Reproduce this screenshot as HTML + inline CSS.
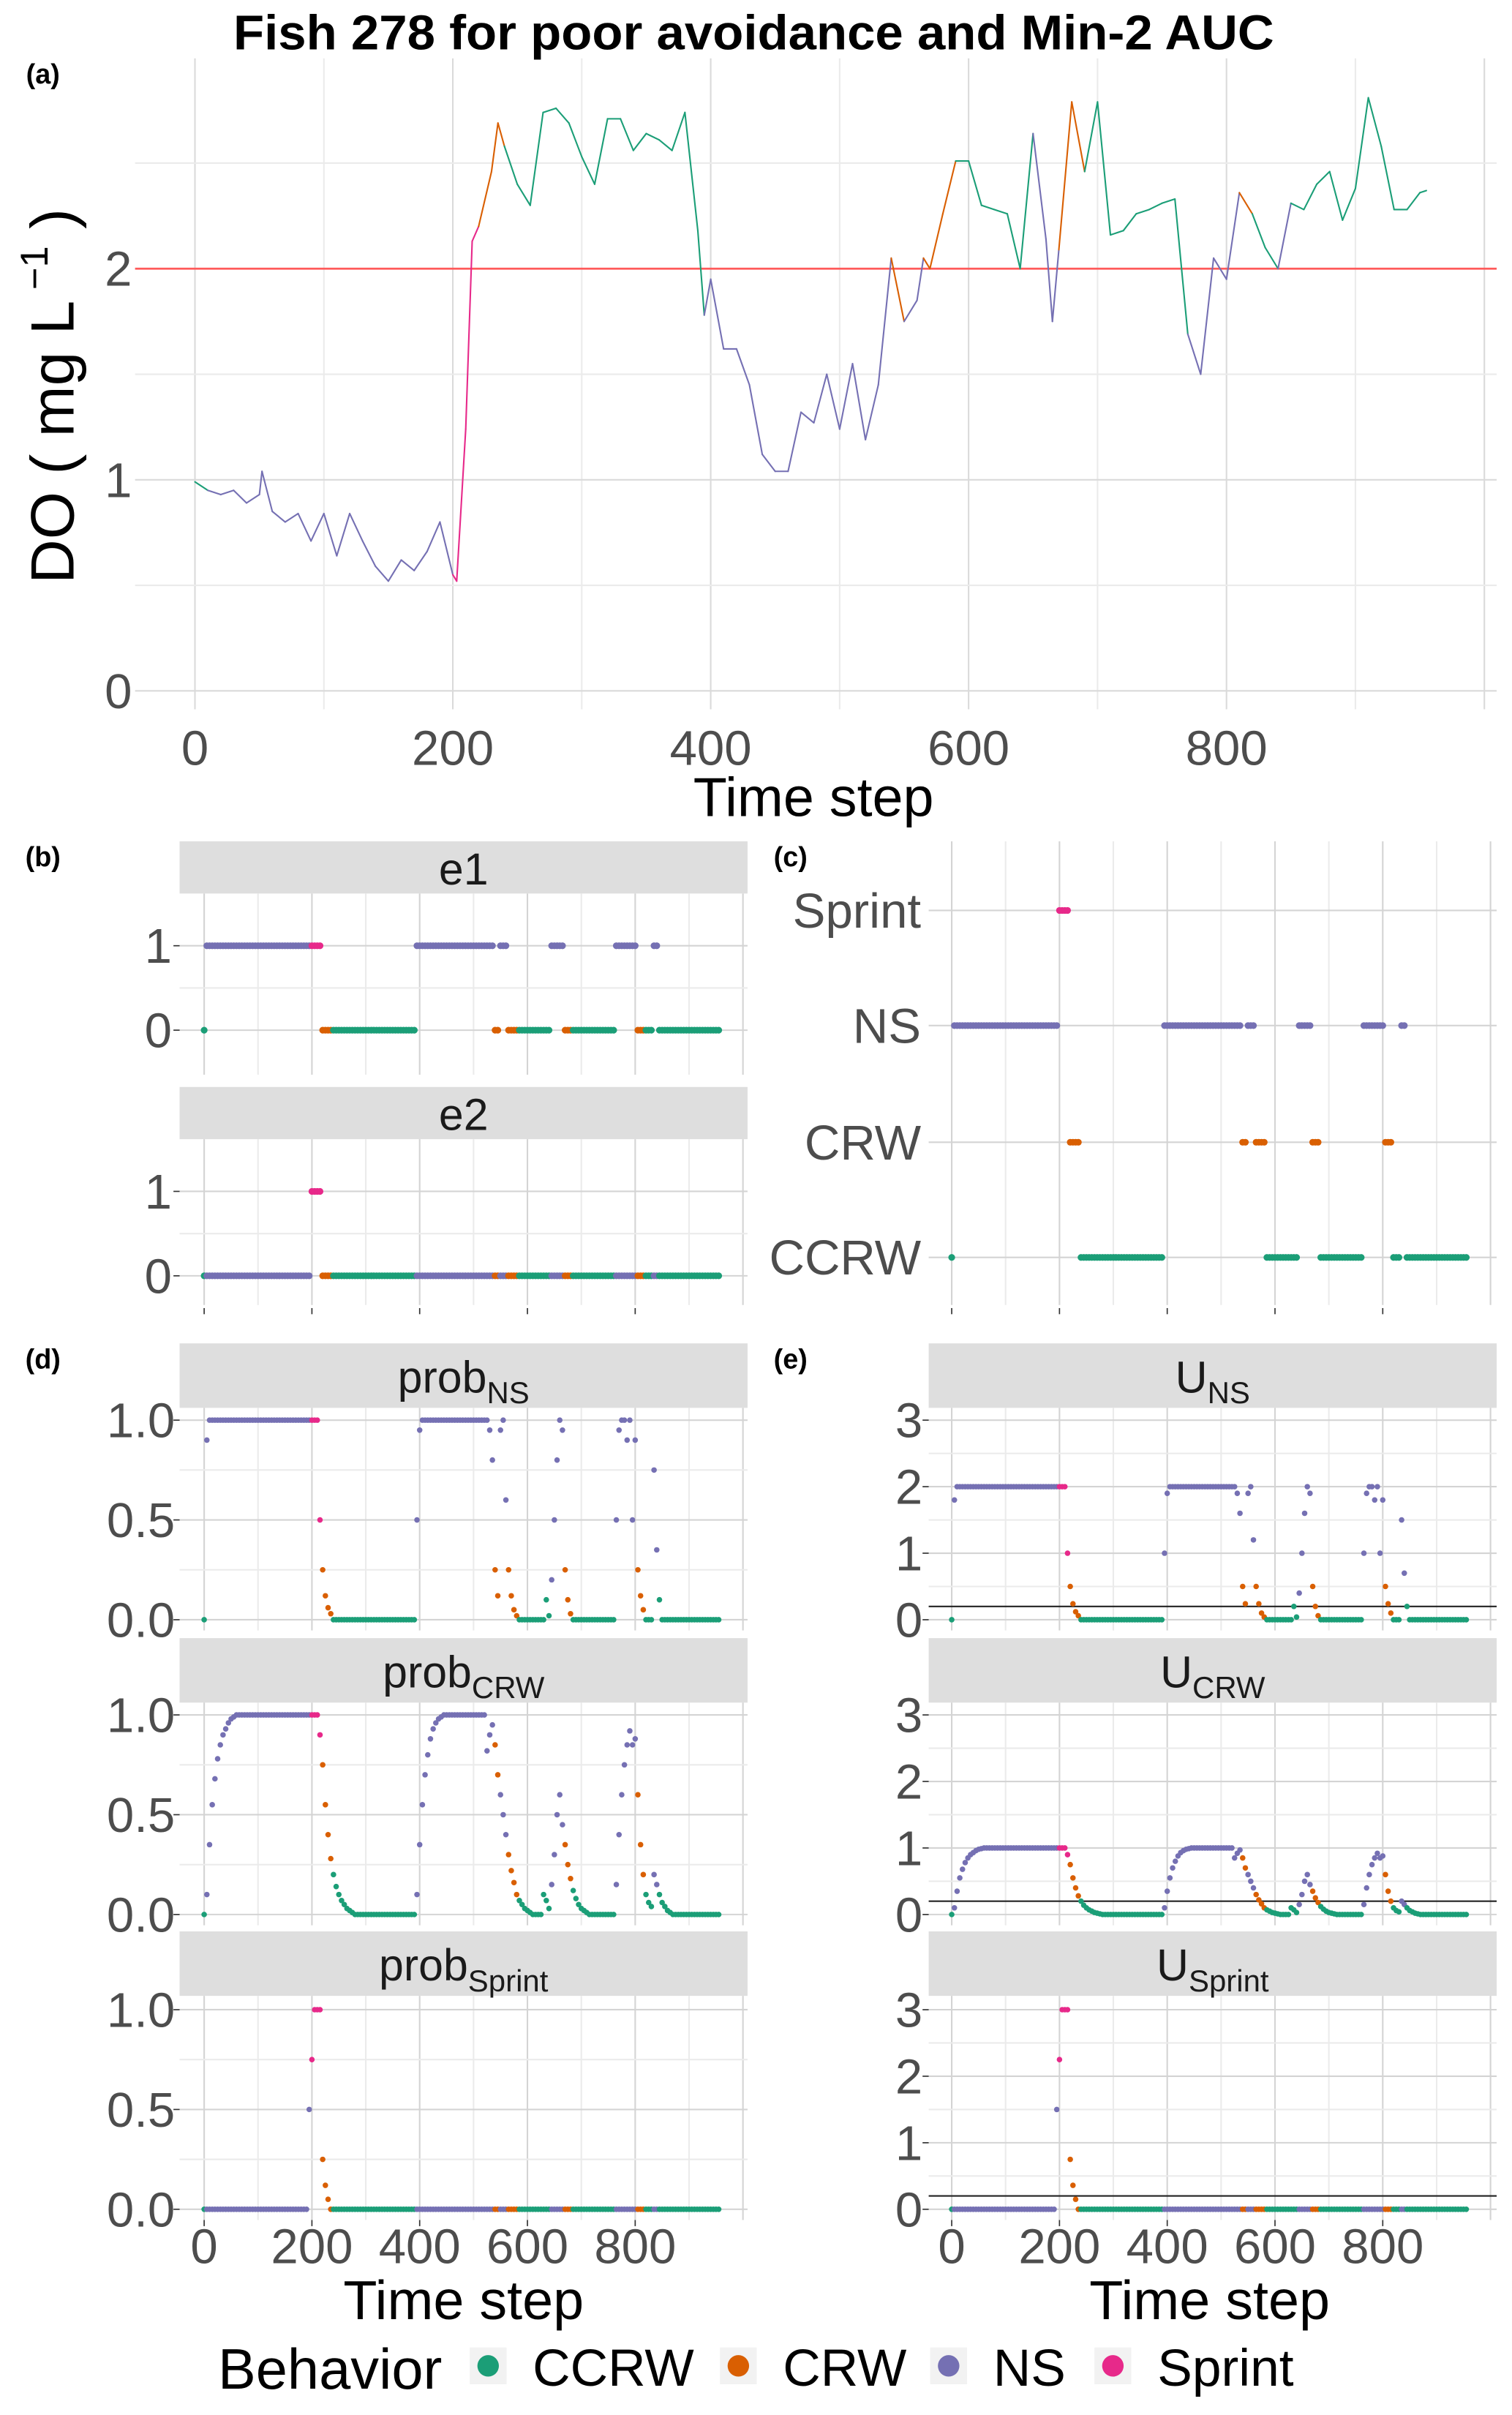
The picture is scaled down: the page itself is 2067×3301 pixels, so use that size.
<!DOCTYPE html>
<html><head><meta charset="utf-8"><style>
html,body{margin:0;padding:0;background:#fff;}
svg{display:block;font-family:"Liberation Sans",sans-serif;}
</style></head><body>
<svg id="chart" xmlns="http://www.w3.org/2000/svg" width="2067" height="3301" viewBox="0 0 985 1573" preserveAspectRatio="none">
<rect x="0" y="0" width="985" height="1573" fill="#fff"/>
</svg>
<script>
// ---------- data ----------
const behStart=[0,5,200,220,240,395,540,550,565,585,645,670,685,765,805,820,835,845];
const behCode=['CCRW','NS','Sprint','CRW','CCRW','NS','CRW','NS','CRW','CCRW','NS','CRW','CCRW','NS','CRW','CCRW','NS','CCRW'];
const legendCats=['CCRW','CRW','NS','Sprint'];
const doT=[0,10,20,30,40,50,52,60,70,80,90,100,110,120,130,140,150,160,170,180,190,200,203,210,215,220,230,235,240,250,260,270,280,290,300,310,320,330,340,350,360,370,380,390,395,400,410,420,430,440,450,460,470,480,490,500,510,520,530,540,545,550,560,565,570,580,590,600,610,620,630,640,650,660,665,670,680,690,700,710,720,730,740,750,760,770,780,790,800,810,820,830,840,850,860,870,880,890,900,910,920,930,940,950,955];
const doV=[0.99,0.95,0.93,0.95,0.89,0.93,1.04,0.85,0.80,0.84,0.71,0.84,0.64,0.84,0.71,0.59,0.52,0.62,0.57,0.66,0.80,0.55,0.52,1.24,2.13,2.2,2.46,2.69,2.58,2.4,2.3,2.74,2.76,2.69,2.53,2.4,2.71,2.71,2.56,2.64,2.61,2.56,2.74,2.18,1.78,1.95,1.62,1.62,1.45,1.12,1.04,1.04,1.32,1.27,1.5,1.24,1.55,1.19,1.45,2.05,1.9,1.75,1.85,2.05,2.0,2.26,2.51,2.51,2.3,2.28,2.26,2.0,2.64,2.14,1.75,2.09,2.79,2.46,2.79,2.16,2.18,2.26,2.28,2.31,2.33,1.69,1.5,2.05,1.95,2.36,2.26,2.1,2.0,2.31,2.28,2.4,2.46,2.23,2.38,2.81,2.58,2.28,2.28,2.36,2.37];
const doThreshold=2;
const uThreshold=0.2;
const stepEvery=5;
const probNS=[0,0.9,1,1,1,1,1,1,1,1,
1,1,1,1,1,1,1,1,1,1,
1,1,1,1,1,1,1,1,1,1,
1,1,1,1,1,1,1,1,1,1,
1,1,1,0.5,0.25,0.12,0.06,0.03,0,0,
0,0,0,0,0,0,0,0,0,0,
0,0,0,0,0,0,0,0,0,0,
0,0,0,0,0,0,0,0,0,0.5,
0.95,1,1,1,1,1,1,1,1,1,
1,1,1,1,1,1,1,1,1,1,
1,1,1,1,1,1,0.95,0.8,0.25,0.12,
0.95,1,0.6,0.25,0.12,0.05,0.02,0,0,0,
0,0,0,0,0,0,0,0.1,0.02,0.2,
0.5,0.8,1,0.95,0.25,0.1,0.03,0,0,0,
0,0,0,0,0,0,0,0,0,0,
0,0,0,0.5,0.95,1,1,0.9,1,0.5,
0.9,0.25,0.12,0.05,0,0,0,0.75,0.35,0.1,
0,0,0,0,0,0,0,0,0,0,
0,0,0,0,0,0,0,0,0,0,
0,0];
const probCRW=[0,0.1,0.35,0.55,0.68,0.78,0.85,0.9,0.93,0.96,
0.98,0.99,1,1,1,1,1,1,1,1,
1,1,1,1,1,1,1,1,1,1,
1,1,1,1,1,1,1,1,1,1,
1,1,1,0.9,0.75,0.55,0.4,0.28,0.2,0.14,
0.1,0.07,0.05,0.03,0.02,0.01,0,0,0,0,
0,0,0,0,0,0,0,0,0,0,
0,0,0,0,0,0,0,0,0,0.1,
0.35,0.55,0.7,0.8,0.88,0.93,0.96,0.98,0.99,1,
1,1,1,1,1,1,1,1,1,1,
1,1,1,1,1,0.82,0.9,0.95,0.85,0.7,
0.6,0.5,0.4,0.3,0.22,0.16,0.1,0.07,0.05,0.03,
0.02,0.01,0,0,0,0,0.1,0.07,0.03,0.15,
0.3,0.5,0.6,0.45,0.35,0.25,0.18,0.12,0.08,0.05,
0.03,0.02,0.01,0,0,0,0,0,0,0,
0,0,0,0.15,0.4,0.6,0.75,0.85,0.92,0.85,
0.88,0.6,0.35,0.2,0.1,0.06,0.04,0.2,0.15,0.1,
0.06,0.04,0.02,0.01,0,0,0,0,0,0,
0,0,0,0,0,0,0,0,0,0,
0,0];
const probSprint=[0,0,0,0,0,0,0,0,0,0,
0,0,0,0,0,0,0,0,0,0,
0,0,0,0,0,0,0,0,0,0,
0,0,0,0,0,0,0,0,0,0.5,
0.75,1,1,1,0.25,0.12,0.05,0,0,0,
0,0,0,0,0,0,0,0,0,0,
0,0,0,0,0,0,0,0,0,0,
0,0,0,0,0,0,0,0,0,0,
0,0,0,0,0,0,0,0,0,0,
0,0,0,0,0,0,0,0,0,0,
0,0,0,0,0,0,0,0,0,0,
0,0,0,0,0,0,0,0,0,0,
0,0,0,0,0,0,0,0,0,0,
0,0,0,0,0,0,0,0,0,0,
0,0,0,0,0,0,0,0,0,0,
0,0,0,0,0,0,0,0,0,0,
0,0,0,0,0,0,0,0,0,0,
0,0,0,0,0,0,0,0,0,0,
0,0,0,0,0,0,0,0,0,0,
0,0];
const uNS=[0,1.8,2,2,2,2,2,2,2,2,
2,2,2,2,2,2,2,2,2,2,
2,2,2,2,2,2,2,2,2,2,
2,2,2,2,2,2,2,2,2,2,
2,2,2,1,0.5,0.24,0.12,0.06,0,0,
0,0,0,0,0,0,0,0,0,0,
0,0,0,0,0,0,0,0,0,0,
0,0,0,0,0,0,0,0,0,1,
1.9,2,2,2,2,2,2,2,2,2,
2,2,2,2,2,2,2,2,2,2,
2,2,2,2,2,2,1.9,1.6,0.5,0.24,
1.9,2,1.2,0.5,0.24,0.1,0.04,0,0,0,
0,0,0,0,0,0,0,0.2,0.04,0.4,
1,1.6,2,1.9,0.5,0.2,0.06,0,0,0,
0,0,0,0,0,0,0,0,0,0,
0,0,0,1,1.9,2,2,1.8,2,1,
1.8,0.5,0.24,0.1,0,0,0,1.5,0.7,0.2,
0,0,0,0,0,0,0,0,0,0,
0,0,0,0,0,0,0,0,0,0,
0,0];
const uCRW=[0,0.1,0.35,0.55,0.68,0.78,0.85,0.9,0.93,0.96,
0.98,0.99,1,1,1,1,1,1,1,1,
1,1,1,1,1,1,1,1,1,1,
1,1,1,1,1,1,1,1,1,1,
1,1,1,0.9,0.75,0.55,0.4,0.28,0.2,0.14,
0.1,0.07,0.05,0.03,0.02,0.01,0,0,0,0,
0,0,0,0,0,0,0,0,0,0,
0,0,0,0,0,0,0,0,0,0.1,
0.35,0.55,0.7,0.8,0.88,0.93,0.96,0.98,0.99,1,
1,1,1,1,1,1,1,1,1,1,
1,1,1,1,1,0.85,0.92,0.97,0.85,0.7,
0.6,0.5,0.4,0.3,0.22,0.16,0.1,0.07,0.05,0.03,
0.02,0.01,0,0,0,0,0.1,0.07,0.03,0.15,
0.3,0.5,0.6,0.45,0.35,0.25,0.18,0.12,0.08,0.05,
0.03,0.02,0.01,0,0,0,0,0,0,0,
0,0,0,0.15,0.4,0.6,0.75,0.85,0.92,0.85,
0.88,0.6,0.35,0.2,0.1,0.06,0.04,0.2,0.15,0.1,
0.06,0.04,0.02,0.01,0,0,0,0,0,0,
0,0,0,0,0,0,0,0,0,0,
0,0];
const uSprint=[0,0,0,0,0,0,0,0,0,0,
0,0,0,0,0,0,0,0,0,0,
0,0,0,0,0,0,0,0,0,0,
0,0,0,0,0,0,0,0,0,1.5,
2.25,3,3,3,0.75,0.36,0.15,0,0,0,
0,0,0,0,0,0,0,0,0,0,
0,0,0,0,0,0,0,0,0,0,
0,0,0,0,0,0,0,0,0,0,
0,0,0,0,0,0,0,0,0,0,
0,0,0,0,0,0,0,0,0,0,
0,0,0,0,0,0,0,0,0,0,
0,0,0,0,0,0,0,0,0,0,
0,0,0,0,0,0,0,0,0,0,
0,0,0,0,0,0,0,0,0,0,
0,0,0,0,0,0,0,0,0,0,
0,0,0,0,0,0,0,0,0,0,
0,0,0,0,0,0,0,0,0,0,
0,0,0,0,0,0,0,0,0,0,
0,0,0,0,0,0,0,0,0,0,
0,0];
const xTicks=[0,200,400,600,800];
const xGrid=[0,100,200,300,400,500,600,700,800,900,1000];

// ---------- drawing ----------
const SVGNS='http://www.w3.org/2000/svg';
const svg=document.getElementById('chart');
const col={CCRW:'#1B9E77',CRW:'#D95F02',NS:'#7570B3',Sprint:'#E7298A'};
function mk(tag,attrs,parent){const e=document.createElementNS(SVGNS,tag);for(const k in attrs)e.setAttribute(k,attrs[k]);(parent||svg).appendChild(e);return e;}
function behAt(t){let b=behCode[0];for(let i=0;i<behStart.length;i++){if(t>=behStart[i])b=behCode[i];}return b;}
function txt(x,y,s,size,opts){const e=mk('text',Object.assign({x:x,y:y+size*0.35,'font-size':size,fill:'#4D4D4D','text-anchor':'middle'},opts||{}));e.textContent=s;return e;}

const xA=t=>127+0.84*t, yA=v=>450-137.5*v;
const xL=t=>133+0.351*t, xR=t=>620+0.351*t;

// ---- title & panel labels
let el=txt(491,21,'Fish 278 for poor avoidance and Min-2 AUC',32,{'font-weight':'bold',fill:'#000','textLength':678,'lengthAdjust':'spacingAndGlyphs'});


[['(a)',28,48],['(b)',28,558],['(c)',515,558],['(d)',28,885],['(e)',515,885]].forEach(p=>{
  const e=txt(p[1],p[2],p[0],18,{'font-weight':'bold',fill:'#000'});
  
  
});

// ---- panel (a)
const gA=mk('g',{});


xGrid.forEach(t=>{const l=mk('line',{x1:xA(t),x2:xA(t),y1:38,y2:462,stroke:t%200===0?'#DADADA':'#EBEBEB','stroke-width':1},gA);
 
 });
[0,0.5,1,1.5,2,2.5].forEach(v=>{const l=mk('line',{x1:88,x2:975,y1:yA(v),y2:yA(v),stroke:(v%1===0)?'#DADADA':'#EBEBEB','stroke-width':1},gA);
 
 });
let th=mk('line',{x1:88,x2:975,y1:yA(doThreshold),y2:yA(doThreshold),stroke:'#FF5A5A','stroke-width':1.3},gA);


for(let i=0;i<doT.length-1;i++){
  const l=mk('line',{x1:xA(doT[i]),y1:yA(doV[i]),x2:xA(doT[i+1]),y2:yA(doV[i+1]),stroke:col[behAt(doT[i])],'stroke-width':1,'stroke-linecap':'round'},gA);
  
  
}
[0,1,2].forEach(v=>{const e=txt(86,yA(v),String(v),32,{'text-anchor':'end'});
 
 });
xTicks.forEach(t=>{const e=txt(xA(t),487,String(t),32);
 
 });
el=txt(530,519,'Time step',36,{fill:'#000'});


el=mk('text',{x:0,y:0,'font-size':40,fill:'#000','text-anchor':'middle',transform:'translate(48,258) rotate(-90)','xml:space':'preserve'});


el.innerHTML='DO (  mg   L<tspan font-size="25" dy="-17"> −1</tspan><tspan dy="17">  )</tspan>';

// ---- generic facet panel
function facet(name,xs,x0,x1,top,bottom,yfn,yTicks,yTickLabels,yMinor,labelX,strip){
  const g=mk('g',{});
  
  
  if(strip){
    const r=mk('rect',{x:x0,y:strip.y0,width:x1-x0,height:strip.y1-strip.y0,fill:'#DEDEDE'},g);
    
    
    const t=mk('text',{x:(x0+x1)/2,y:(strip.y0+strip.y1)/2+11,'font-size':29,fill:'#1A1A1A','text-anchor':'middle'},g);
    
    
    t.innerHTML=strip.html;
  }
  xGrid.forEach(t=>{const l=mk('line',{x1:xs(t),x2:xs(t),y1:top,y2:bottom,stroke:t%200===0?'#D4D4D4':'#EBEBEB','stroke-width':1},g);
    
    });
  yMinor.forEach(v=>{const l=mk('line',{x1:x0,x2:x1,y1:yfn(v),y2:yfn(v),stroke:'#EBEBEB','stroke-width':1},g);
    
    });
  yTicks.forEach((v,i)=>{
    const l=mk('line',{x1:x0,x2:x1,y1:yfn(v),y2:yfn(v),stroke:'#D4D4D4','stroke-width':1},g);
    
    
    const tk=mk('line',{x1:x0-4,x2:x0,y1:yfn(v),y2:yfn(v),stroke:'#333','stroke-width':0.8},g);
    
    
    const e=txt(labelX,yfn(v),yTickLabels[i],32,{'text-anchor':'end'});
    g.appendChild(e);
    
    
  });
  return g;
}
function dots(g,xs,yfn,vals,r){
  for(let i=0;i<vals.length;i++){
    const t=i*stepEvery;
    const c=mk('circle',{cx:xs(t),cy:yfn(vals[i]),r:r,fill:col[behAt(t)]},g);
    
    
  }
}
function xTickMarks(xs,y){xTicks.forEach(t=>{const l=mk('line',{x1:xs(t),x2:xs(t),y1:y,y2:y+4,stroke:'#333','stroke-width':0.8});
  
  });}

const nPts=probNS.length;
const e1=[],e2=[],behIdx=[];
for(let i=0;i<nPts;i++){const b=behAt(i*stepEvery);e1.push(b==='NS'||b==='Sprint'?1:0);e2.push(b==='Sprint'?1:0);behIdx.push(['CCRW','CRW','NS','Sprint'].indexOf(b));}

// ---- panel (b)
let ye1=v=>671-55*v, ye2=v=>831-55*v;
let g=facet('panel-b-e1',xL,117,487,582,700,ye1,[0,1],['0','1'],[0.5],112,{y0:548,y1:582,html:'e1'});
dots(g,xL,ye1,e1,2.2);
g=facet('panel-b-e2',xL,117,487,742,850,ye2,[0,1],['0','1'],[0.5],112,{y0:708,y1:742,html:'e2'});
dots(g,xL,ye2,e2,2.2);
xTickMarks(xL,852);

// ---- panel (c)
const catY=[819,744,668,593];
const catNames=['CCRW','CRW','NS','Sprint'];
g=mk('g',{});


xGrid.forEach(t=>{const l=mk('line',{x1:xR(t),x2:xR(t),y1:548,y2:850,stroke:t%200===0?'#D4D4D4':'#EBEBEB','stroke-width':1},g);
 
 });
catNames.forEach((n,i)=>{
 const l=mk('line',{x1:605,x2:975,y1:catY[i],y2:catY[i],stroke:'#D4D4D4','stroke-width':1},g);
 
 
 const e=txt(600,catY[i],n,32,{'text-anchor':'end'});
 g.appendChild(e);
 
 
});
for(let i=0;i<nPts;i++){const t=i*stepEvery;
 const c=mk('circle',{cx:xR(t),cy:catY[behIdx[i]],r:2.2,fill:col[behAt(t)]},g);
 
 }
xTickMarks(xR,852);

// ---- panels (d) and (e)
const probTicks=[0,0.5,1], probLabels=['0.0','0.5','1.0'];
const dRows=[{name:'ns',sub:'NS',top:917,bot:1062,zero:1055,sy:875,p:probNS,u:uNS},
             {name:'crw',sub:'CRW',top:1109,bot:1254,zero:1247,sy:1067,p:probCRW,u:uCRW},
             {name:'sprint',sub:'Sprint',top:1300,bot:1446,zero:1439,sy:1258,p:probSprint,u:uSprint}];
dRows.forEach(r=>{
  const yp=v=>r.zero-130*v;
  let gg=facet('panel-d-prob-'+r.name,xL,117,487,r.top,r.bot,yp,probTicks,probLabels,[0.25,0.75],114,
     {y0:r.sy,y1:r.sy+42,html:'prob<tspan font-size="20" dy="7">'+r.sub+'</tspan>'});
  dots(gg,xL,yp,r.p,1.8);
  const yu=v=>r.zero-43.33*v;
  gg=facet('panel-e-u-'+r.name,xR,605,975,r.top,r.bot,yu,[0,1,2,3],['0','1','2','3'],[0.5,1.5,2.5],601,
     {y0:r.sy,y1:r.sy+42,html:'U<tspan font-size="20" dy="7">'+r.sub+'</tspan>'});
  const hl=mk('line',{x1:605,x2:975,y1:yu(uThreshold),y2:yu(uThreshold),stroke:'#222','stroke-width':1},gg);
  
  
  dots(gg,xR,yu,r.u,1.8);
});
xTickMarks(xL,1446);xTickMarks(xR,1446);
xTicks.forEach(t=>{
 let e=txt(xL(t),1463,String(t),32);
 
 
 e=txt(xR(t),1463,String(t),32);
 
 
});
el=txt(302,1498,'Time step',36,{fill:'#000'});


el=txt(788,1498,'Time step',36,{fill:'#000'});



// ---- legend
const lg=mk('g',{});


el=txt(142,1543,'Behavior',37,{fill:'#000','text-anchor':'start'});
lg.appendChild(el);


const legX=[318,481,618,725];
legendCats.forEach((c,i)=>{
  const bg=mk('rect',{x:legX[i]-12,y:1529,width:24,height:24,fill:'#F2F2F2'},lg);
  
  
  const d=mk('circle',{cx:legX[i],cy:1541,r:7,fill:col[c]},lg);
  
  
  const t=txt(legX[i]+29,1542,c,34,{fill:'#000','text-anchor':'start'});
  lg.appendChild(t);
  
  
});
</script>
</body></html>
